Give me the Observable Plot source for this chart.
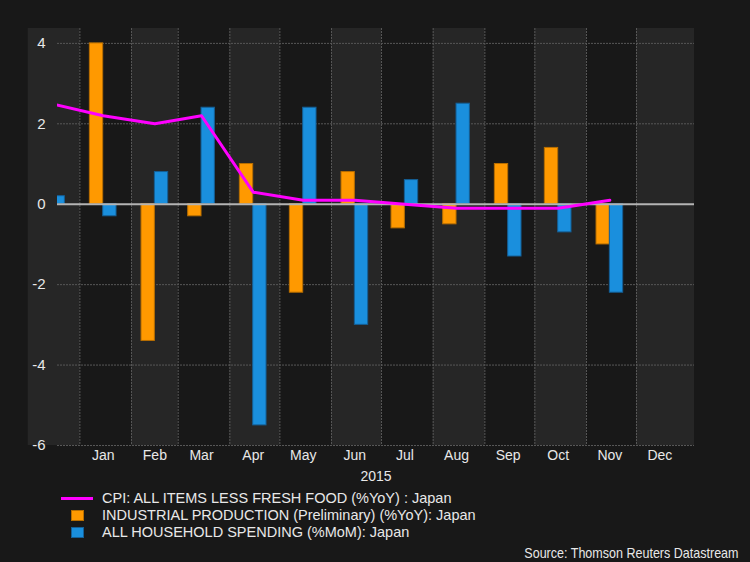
<!DOCTYPE html>
<html><head><meta charset="utf-8">
<script src="https://cdn.jsdelivr.net/npm/d3@7"></script>
<script src="https://cdn.jsdelivr.net/npm/@observablehq/plot@0.6"></script>
<style>
html,body{margin:0;padding:0;background:#181818;}
body{width:750px;height:562px;overflow:hidden;position:relative;font-family:"Liberation Sans",Arial,sans-serif;color:#e8e8e8;}
#chart svg{display:block;}
.leg{position:absolute;left:102px;font-size:14.5px;line-height:17px;white-space:nowrap;color:#e8e8e8;}
.sw{position:absolute;box-sizing:border-box;}
#source{position:absolute;right:11px;top:544px;font-family:"Liberation Sans",Arial,sans-serif;font-size:15px;line-height:17px;color:#e8e8e8;white-space:nowrap;transform:scaleX(0.835);transform-origin:right center;}
</style></head><body>
<div id="chart"></div>
<div id="legend"></div>
<div id="source">Source: Thomson Reuters Datastream</div>
<script>
// ---- data ----
const months = ["2014-12","2015-01","2015-02","2015-03","2015-04","2015-05","2015-06","2015-07","2015-08","2015-09","2015-10","2015-11"];
const cpi = [2.5, 2.2, 2.0, 2.2, 0.3, 0.1, 0.1, 0.0, -0.1, -0.1, -0.1, 0.1];
const industrial = [null, 4.0, -3.4, -0.3, 1.0, -2.2, 0.8, -0.6, -0.5, 1.0, 1.4, -1.0];
const household = [0.2, -0.3, 0.8, 2.4, -5.5, 2.4, -3.0, 0.6, 2.5, -1.3, -0.7, -2.2];
const tickLabels = ["Jan","Feb","Mar","Apr","May","Jun","Jul","Aug","Sep","Oct","Nov","Dec"];
const yTicks = [4, 2, 0, -2, -4, -6];
const seriesNames = [
  "CPI: ALL ITEMS LESS FRESH FOOD (%YoY) : Japan",
  "INDUSTRIAL PRODUCTION (Preliminary) (%YoY): Japan",
  "ALL HOUSEHOLD SPENDING (%MoM): Japan"
];
const colors = {cpi: "#ff00ff", ind: "#ff9900", hh: "#1a8fdd"};

// ---- derived ----
const DAY = 864e5;
const xDomain = [new Date(Date.UTC(2014, 11, 18, 14)), new Date(Date.UTC(2016, 0, 4, 19))];
const mid = months.map(m => { const [y, mo] = m.split("-").map(Number); return new Date(Date.UTC(y, mo - 1, 15)); });
const rows = months.map((m, i) => ({date: mid[i], cpi: cpi[i], ind: industrial[i], hh: household[i]}));
const indBars = rows.filter(d => d.ind != null).map(d => ({x1: new Date(+d.date - 8 * DAY), x2: d.date, v: d.ind}));
const hhBars = rows.filter(d => d.hh != null).map(d => ({x1: d.date, x2: new Date(+d.date + 8 * DAY), v: d.hh}));
const monthStarts = d3.utcMonth.range(new Date(Date.UTC(2014, 11, 1)), new Date(Date.UTC(2016, 0, 1)));
const bands = monthStarts.map((s, i) => ({x1: s, x2: i === monthStarts.length - 1 ? xDomain[1] : monthStarts[i + 1], light: i % 2 === 0})).filter(d => d.light);
const gridMonths = monthStarts.slice(1);
const tickDates = tickLabels.map((t, i) => new Date(Date.UTC(2015, i, 15)));

const plot = Plot.plot({
  width: 750,
  height: 490,
  marginLeft: 57,
  marginRight: 56,
  marginTop: 28,
  marginBottom: 45,
  style: {background: "transparent", color: "#e8e8e8", fontFamily: "'Liberation Sans', Arial, sans-serif"},
  x: {type: "utc", domain: xDomain},
  y: {domain: [-6, 4.37]},
  marks: [
    Plot.rect(bands, {x1: "x1", x2: "x2", fill: "#262626"}),
    Plot.ruleX(gridMonths, {stroke: "#575757", strokeWidth: 1, strokeDasharray: "2,1"}),
    Plot.ruleY(yTicks.filter(v => v !== 0), {stroke: "#575757", strokeWidth: 1, strokeDasharray: "2,1"}),
    Plot.rectY(indBars, {x1: "x1", x2: "x2", y1: 0, y2: "v", fill: colors.ind, stroke: "#b86e00", strokeWidth: 1, clip: true}),
    Plot.rectY(hhBars, {x1: "x1", x2: "x2", y1: 0, y2: "v", fill: colors.hh, stroke: "#145f96", strokeWidth: 1, clip: true}),
    Plot.ruleY([0], {stroke: "#b4b4b4", strokeWidth: 2}),
    Plot.line(rows, {x: "date", y: "cpi", stroke: colors.cpi, strokeWidth: 3, clip: true}),
    Plot.axisY({ticks: yTicks, tickSize: 0, tickPadding: 12, fontSize: 15, label: null, tickFormat: d => d3.format("d")(d).replace("−", "-")}),
    Plot.axisX({ticks: tickDates, tickSize: 0, tickPadding: 5, fontSize: 14, tickFormat: d => tickLabels[d.getUTCMonth()], label: "2015", labelAnchor: "center", labelArrow: "none", labelOffset: 35})
  ]
});
document.getElementById("chart").appendChild(plot);

// ---- legend ----
const leg = document.getElementById("legend");
const tops = [490, 507, 524];
seriesNames.forEach((name, i) => {
  const t = document.createElement("div");
  t.className = "leg"; t.style.top = tops[i] + "px"; t.textContent = name;
  leg.appendChild(t);
});
const sw0 = document.createElement("div"); sw0.className = "sw";
Object.assign(sw0.style, {left: "61px", top: "497px", width: "32px", height: "3px", background: colors.cpi});
const sw1 = document.createElement("div"); sw1.className = "sw";
Object.assign(sw1.style, {left: "71px", top: "510px", width: "13px", height: "11px", background: colors.ind, border: "1px solid #b86e00"});
const sw2 = document.createElement("div"); sw2.className = "sw";
Object.assign(sw2.style, {left: "71px", top: "527px", width: "13px", height: "11px", background: colors.hh, border: "1px solid #145f96"});
[sw0, sw1, sw2].forEach(s => leg.appendChild(s));
</script>
</body></html>
